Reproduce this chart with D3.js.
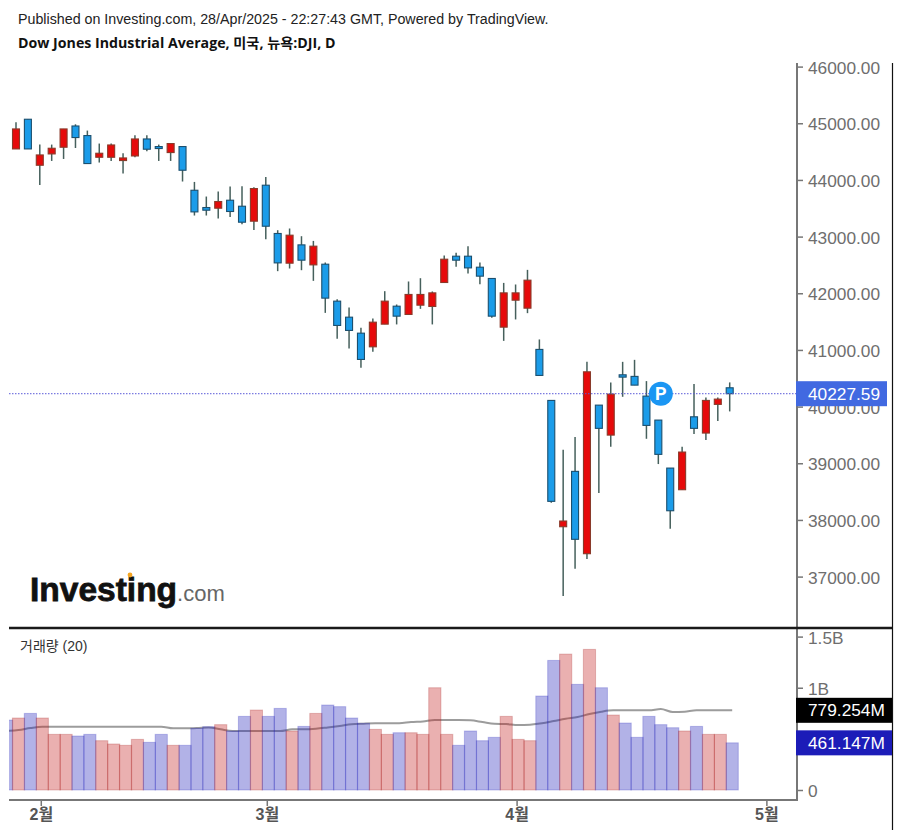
<!DOCTYPE html>
<html>
<head>
<meta charset="utf-8">
<script src="https://cdn.jsdelivr.net/npm/d3@7"></script>
<style>
  html, body { margin: 0; padding: 0; background: #fff; }
  svg { display: block; }
  .axis text { font-family: "Liberation Sans", Arial, sans-serif; fill: #6e6e6e; }
</style>
</head>
<body>
<svg id="chart" width="900" height="835"></svg>
<script>
const publishedLine = "Published on Investing.com, 28/Apr/2025 - 22:27:43 GMT, Powered by TradingView.";
const titleLine = "Dow Jones Industrial Average, 미국, 뉴욕:DJI, D";
const volumeLabel = "거래량 (20)";

const opens = [44547,45071,44259,44459,44577,44952,44783,44400,44400,44342,44423,44723,44589,44483,44589,43818,43513,43501,43642,43536,43272,43907,43055,42531,42854,42501,42513,41861,41578,41296,41055,41455,41772,41626,41790,41767,42190,42654,42654,42460,42261,41402,41878,41737,41009,40109,37880,38857,37404,40026,39497,40561,40533,40185,39762,38915,38533,39820,39533,40039,40332];
const highs = [45018,45071,44624,44624,44900,44982,44871,44642,44642,44471,44788,44788,44624,44642,44589,43965,43707,43795,43884,43889,43871,44053,43113,43143,43007,42924,42543,41896,41750,41390,41556,42037,41802,42208,42266,42032,42667,42713,42831,42543,42261,42183,42155,42413,41185,40109,39238,39462,40790,40026,40427,40790,40825,40450,39762,38915,39291,40397,40162,40162,40427];
const lows = [44547,44547,43912,44335,44370,44564,44289,44307,44335,44113,44400,44506,44335,44335,43972,43372,43372,43319,43347,43219,43118,42954,42390,42437,42407,42219,41654,41196,41026,40684,40966,41455,41450,41626,41725,41450,42190,42466,42349,42160,41566,41160,41538,41649,40550,38303,36658,37139,37310,38474,39291,40173,40379,39432,38986,37845,38533,39515,39409,39744,39915];
const closes = [44900,44547,44441,44559,44900,44748,44289,44471,44617,44388,44723,44542,44554,44642,44171,43436,43466,43619,43443,43254,43848,43183,42536,43025,42584,42831,41914,41432,41344,40832,41490,41861,41596,41979,41979,42007,42601,42584,42448,42302,41596,42007,42007,42231,40550,38328,37981,37658,40614,39616,40220,40520,40379,39668,39157,38162,39198,39616,40109,40132,40227.59];
const dojiDown = [12,16,51];

// first entry is the session cut off by the left edge
const volumes = [684,704,749,704,544,544,528,544,482,450,437,495,466,544,437,437,603,619,639,577,720,782,720,798,577,622,749,831,815,704,652,593,544,560,560,544,1000,544,437,577,482,515,720,495,482,919,1267,1329,1033,1375,1000,733,655,515,720,639,609,577,622,544,544,461.147];
const volumeUp = [0,1,0,1,1,1,0,0,1,1,1,1,0,0,1,0,0,0,1,0,0,1,0,0,1,0,1,0,0,0,0,1,1,0,1,1,1,1,0,0,0,0,1,1,1,0,0,1,0,1,0,1,0,0,0,0,0,1,0,1,1,0];
const volumeAvg = [577,586,606,619,619,619,619,619,619,619,619,619,619,619,603,603,606,612,593,577,577,577,577,577,593,593,599,612,626,642,648,652,652,652,665,671,684,684,684,681,665,648,645,635,639,652,674,697,713,743,766,779,779,779,779,792,762,766,779,779,779,779.254];

const priceTicks = [37000,38000,39000,40000,41000,42000,43000,44000,45000,46000];
const volumeTicks = [0,1000,1500];
const monthSessions = [2,21,42,63];
const monthLabels = ["2월","3월","4월","5월"];
const lastPrice = 40227.59;
const lastVolume = 461.147;
const lastAvg = 779.254;
const markerSession = 54;

const svg = d3.select("#chart");

const plotLeft = 9, plotRight = 797, axisRight = 892;
const x = d3.scaleLinear().domain([0, 60]).range([16, 729.7]);
const yPrice = d3.scaleLinear().domain([37000, 46000]).range([576.6, 66.6]);
const yVol = d3.scaleLinear().domain([0, 1500]).range([790, 636.6]);
const barShift = 2.5, barW = 12.2, bodyW = 7;

svg.append("clipPath").attr("id", "plotClip").append("rect")
  .attr("x", plotLeft).attr("y", 60).attr("width", plotRight - plotLeft).attr("height", 740);

// candles
const candleLayer = svg.append("g").attr("clip-path", "url(#plotClip)");
const sessions = d3.range(opens.length);
const isUp = i => closes[i] >= opens[i] && !dojiDown.includes(i);

candleLayer.selectAll("line.wick").data(sessions).join("line")
  .attr("class", "wick")
  .attr("x1", i => x(i)).attr("x2", i => x(i))
  .attr("y1", i => yPrice(highs[i])).attr("y2", i => yPrice(lows[i]))
  .attr("stroke", "#46605c").attr("stroke-width", 1.5);

candleLayer.selectAll("rect.body").data(sessions).join("rect")
  .attr("class", "body")
  .attr("x", i => x(i) - bodyW / 2)
  .attr("width", bodyW)
  .attr("y", i => yPrice(Math.max(opens[i], closes[i])))
  .attr("height", i => Math.max(1, Math.abs(yPrice(opens[i]) - yPrice(closes[i]))))
  .attr("fill", i => isUp(i) ? "#e60a0a" : "#1b9ce9")
  .attr("stroke", i => isUp(i) ? "#8a3a2a" : "#1c4f6e")
  .attr("stroke-width", 1.1);

// last price line
candleLayer.append("line")
  .attr("x1", plotLeft).attr("x2", plotRight)
  .attr("y1", yPrice(lastPrice)).attr("y2", yPrice(lastPrice))
  .attr("stroke", "#5a5ad8").attr("stroke-width", 1).attr("stroke-dasharray", "1.5 1.5");

// P marker
const marker = svg.append("g")
  .attr("transform", `translate(${x(markerSession) + barShift},${yPrice(lastPrice)})`);
marker.append("circle").attr("r", 12).attr("fill", "#1b96f3");
marker.append("text").attr("text-anchor", "middle").attr("y", 6.5)
  .attr("font-family", "Roboto, sans-serif").attr("font-weight", 700).attr("font-size", 18)
  .attr("fill", "#fff").text("P");

// volume pane, line under the translucent bars
const volLayer = svg.append("g").attr("clip-path", "url(#plotClip)");
const volLine = d3.line().x((d, i) => x(i - 1) + barShift).y(d => yVol(d)).curve(d3.curveMonotoneX);
volLayer.append("path").datum(volumeAvg)
  .attr("d", volLine).attr("fill", "none").attr("stroke", "#9c9c9c").attr("stroke-width", 2);
volLayer.selectAll("rect").data(volumes).join("rect")
  .attr("x", (d, i) => x(i - 1) + barShift - barW / 2)
  .attr("width", barW)
  .attr("y", d => yVol(d))
  .attr("height", d => yVol(0) - yVol(d))
  .attr("fill", (d, i) => volumeUp[i] ? "#c41c1c" : "#2222bb")
  .attr("fill-opacity", 0.35)
  .attr("stroke", (d, i) => volumeUp[i] ? "#a01818" : "#2222bb")
  .attr("stroke-opacity", 0.25);

// axes
const priceAxis = svg.append("g").attr("class", "axis").attr("transform", `translate(${plotRight},0)`)
  .call(d3.axisRight(yPrice).tickValues(priceTicks).tickFormat(d3.format(".2f")).tickSize(6).tickSizeOuter(0));
const volAxis = svg.append("g").attr("class", "axis").attr("transform", `translate(${plotRight},0)`)
  .call(d3.axisRight(yVol).tickValues(volumeTicks).tickFormat(d => d === 0 ? "0" : d === 1000 ? "1B" : "1.5B").tickSize(6).tickSizeOuter(0));
const timeAxis = svg.append("g").attr("class", "axis").attr("transform", "translate(1,800)")
  .call(d3.axisBottom(x).tickValues(monthSessions).tickFormat((d, i) => monthLabels[i]).tickSize(6).tickSizeOuter(0));

[priceAxis, volAxis].forEach(g => {
  g.select(".domain").remove();
  g.selectAll(".tick line").attr("stroke", "#777").attr("stroke-width", 1.5);
  g.selectAll(".tick text").attr("x", 11).attr("dy", "0.38em").attr("font-size", 17.3);
});
timeAxis.select(".domain").remove();
timeAxis.selectAll(".tick line").attr("stroke", "#777").attr("stroke-width", 1.5);
timeAxis.selectAll(".tick text").attr("y", 9).attr("font-size", 16).attr("font-weight", 700)
  .style("fill", "#555").style("font-family", '"Liberation Sans", "Noto Sans CJK KR", sans-serif');

// pane frame
svg.append("line").attr("x1", plotRight).attr("x2", plotRight).attr("y1", 63).attr("y2", 801)
  .attr("stroke", "#777").attr("stroke-width", 2);
svg.append("line").attr("x1", plotLeft).attr("x2", plotRight).attr("y1", 800).attr("y2", 800)
  .attr("stroke", "#777").attr("stroke-width", 2);
svg.append("line").attr("x1", plotLeft).attr("x2", axisRight).attr("y1", 628).attr("y2", 628)
  .attr("stroke", "#1a1a1a").attr("stroke-width", 2.6);
svg.append("line").attr("x1", axisRight + 0.5).attr("x2", axisRight + 0.5).attr("y1", 63).attr("y2", 830)
  .attr("stroke", "#111").attr("stroke-width", 1.2);

// value tags on the axis
function valueTag(y, w, fill, label) {
  svg.append("rect").attr("x", plotRight - 1).attr("y", y - 12.5).attr("width", w).attr("height", 25).attr("fill", fill);
  svg.append("text").attr("x", 808).attr("y", y + 6)
    .attr("font-family", '"Liberation Sans", Arial, sans-serif').attr("font-size", 17.3)
    .attr("fill", "#fff").text(label);
}
valueTag(yPrice(lastPrice), 91, "#4169e1", d3.format(".2f")(lastPrice));
valueTag(yVol(lastAvg), 96, "#000", lastAvg + "M");
valueTag(yVol(lastVolume), 96, "#1c1cb8", lastVolume + "M");

// header
svg.append("text").attr("x", 18).attr("y", 24)
  .attr("font-family", '"Liberation Sans", Arial, sans-serif').attr("font-size", 14.25).attr("fill", "#222").text(publishedLine);
svg.append("text").attr("x", 18).attr("y", 48)
  .attr("font-family", '"Open Sans", "Noto Sans CJK KR", sans-serif').attr("font-weight", 700).attr("font-size", 14.2)
  .attr("fill", "#111").text(titleLine);
svg.append("text").attr("x", 20).attr("y", 651)
  .attr("font-family", '"Liberation Sans", "Noto Sans CJK KR", sans-serif').attr("font-size", 14)
  .attr("fill", "#333").text(volumeLabel);

// logo
const logo = svg.append("text").attr("x", 30).attr("y", 601)
  .attr("font-family", '"Liberation Sans", Arial, sans-serif').attr("font-size", 33.5);
logo.append("tspan").attr("font-weight", 700).attr("fill", "#111").attr("stroke", "#111").attr("stroke-width", 0.8).text("Investing");
logo.append("tspan").attr("font-size", 22).attr("fill", "#666").text(".com");
svg.append("circle").attr("cx", 130).attr("cy", 575).attr("r", 2.4).attr("fill", "#f5a623");
</script>
</body>
</html>
